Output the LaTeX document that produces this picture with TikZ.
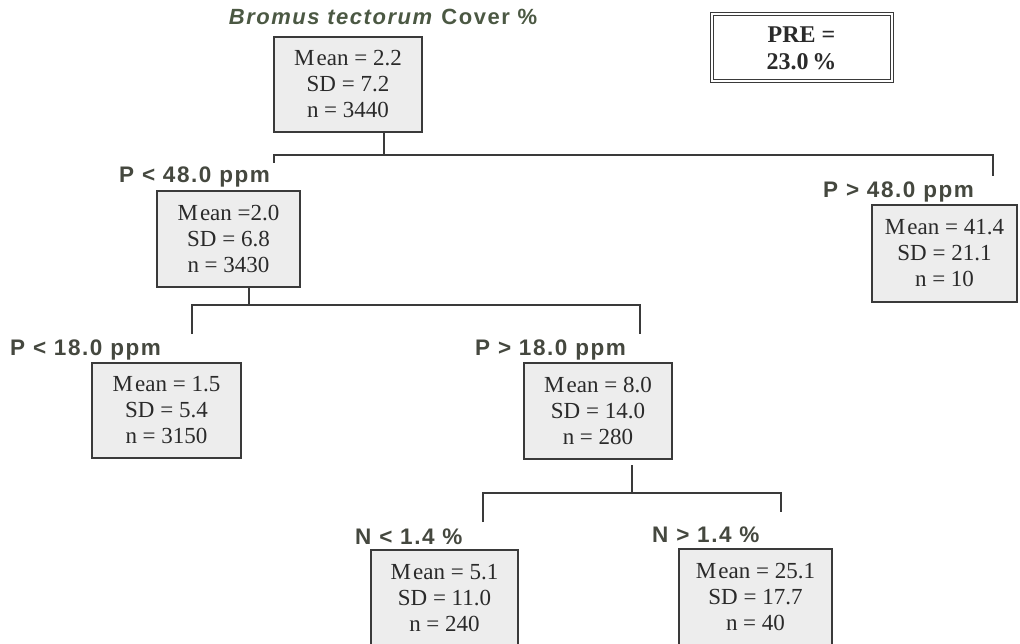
\documentclass[tikz,border=0pt]{standalone}
\usepackage{fontspec}
\setmainfont{Liberation Serif}
\newfontfamily\labfont{Liberation Sans}[LetterSpace=7]
\definecolor{linec}{HTML}{3A3A3A}
\definecolor{labc}{HTML}{45483F}
\definecolor{titc}{HTML}{4B5843}
\definecolor{boxfill}{HTML}{EDEDED}
\definecolor{boxtext}{HTML}{2A2A2A}
\begin{document}
\begin{tikzpicture}[x=1pt,y=-1pt,
  databox/.style={draw=linec, line width=1.1pt, fill=boxfill, minimum width=148pt, minimum height=95pt, align=center, inner sep=0pt, font=\fontsize{23}{26}\selectfont, text=boxtext},
  cond/.style={anchor=west, inner sep=0pt, font=\labfont\bfseries\fontsize{22.5}{26}\selectfont, text=labc},
  prebox/.style={draw=linec, line width=1pt, minimum width=183pt, minimum height=70pt, align=center, inner sep=0pt, font=\bfseries\fontsize{24}{27}\selectfont, text=boxtext},
  link/.style={draw=linec, line width=1.1pt}]
\useasboundingbox (0,0) rectangle (1020,644);
\begin{scope}
\clip (0,0) rectangle (1020,644);
% title and PRE
\node[inner sep=0pt, font=\labfont\bfseries\fontsize{22}{26}\selectfont, text=titc] (title) at (383,17) {\textit{Bromus tectorum} Cover \%};
\node[prebox] (pre) at (801.5,48) {PRE =\\23.0\,\%};
\draw[draw=linec, line width=1pt] ([shift={(3.5,3.5)}]pre.north west) rectangle ([shift={(-3.5,-3.5)}]pre.south east);
% boxes
\node[databox] (root) at (348,84.5) {M\kern2pt ean = 2.2\\SD = 7.2\\n = 3440};
\node[databox, minimum width=143pt, minimum height=96pt] (p48lo) at (228.5,239) {M\kern2pt ean =2.0\\SD = 6.8\\n = 3430};
\node[databox, minimum width=145pt, minimum height=97pt] (p48hi) at (944.5,253.5) {M\kern2pt ean = 41.4\\SD = 21.1\\n = 10};
\node[databox, minimum width=149pt] (p18lo) at (166.5,410.5) {M\kern2pt ean = 1.5\\SD = 5.4\\n = 3150};
\node[databox, minimum width=148pt, minimum height=96pt] (p18hi) at (598,411) {M\kern2pt ean = 8.0\\SD = 14.0\\n = 280};
\node[databox, minimum width=147pt, minimum height=96pt] (n14lo) at (444.5,598) {M\kern2pt ean = 5.1\\SD = 11.0\\n = 240};
\node[databox, minimum width=153pt, minimum height=96pt] (n14hi) at (755.5,597) {M\kern2pt ean = 25.1\\SD = 17.7\\n = 40};
% labels
\node[cond] (lp48lo) at (119,177) {P < 48.0 ppm};
\node[cond] (lp48hi) at (823,192) {P > 48.0 ppm};
\node[cond] (lp18lo) at (10,350) {P < 18.0 ppm};
\node[cond] (lp18hi) at (475,350) {P > 18.0 ppm};
\node[cond] (ln14lo) at (355,537) {N < 1.4 \%};
\node[cond] (ln14hi) at (652,535) {N > 1.4 \%};
% connectors, level 1
\coordinate (j1) at (384,155);
\coordinate (a1) at (274,155);
\coordinate (a1d) at (274,163);
\coordinate (b1) at (993,155);
\coordinate (b1d) at (993,176);
\draw[link] (j1 |- root.south) -- (j1);
\draw[link] (a1d) -- (a1) -- (b1) -- (b1d);
% level 2
\coordinate (j2) at (249,305);
\coordinate (a2) at (192,305);
\coordinate (a2d) at (192,334);
\coordinate (b2) at (640,305);
\coordinate (b2d) at (640,334);
\draw[link] (j2 |- p48lo.south) -- (j2);
\draw[link] (a2d) -- (a2) -- (b2) -- (b2d);
% level 3
\coordinate (j3) at (632,493);
\coordinate (j3t) at (632,465);
\coordinate (a3) at (483,493);
\coordinate (a3d) at (483,522);
\coordinate (b3) at (781,493);
\coordinate (b3d) at (781,512);
\draw[link] (j3t) -- (j3);
\draw[link] (a3d) -- (a3) -- (b3) -- (b3d);
\end{scope}
\end{tikzpicture}
\end{document}
